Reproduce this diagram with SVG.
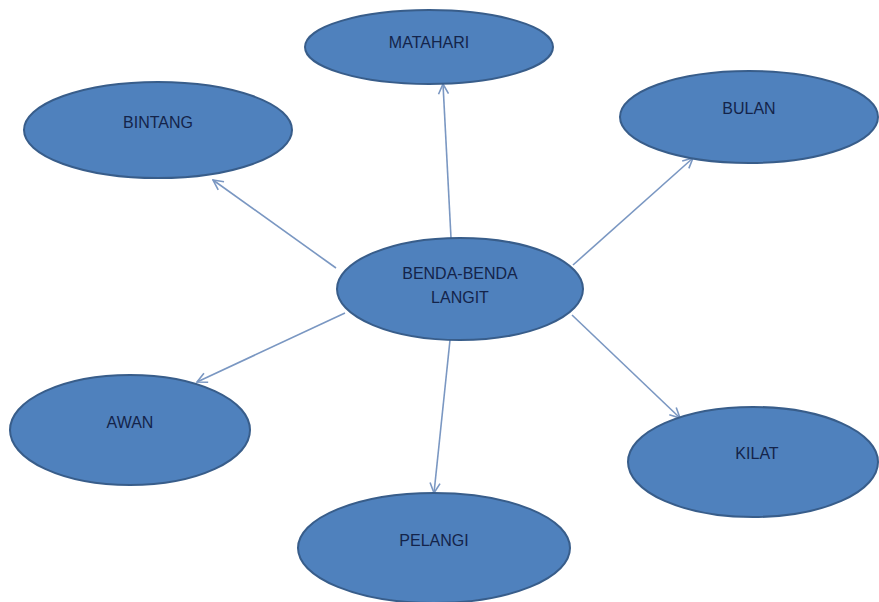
<svg xmlns="http://www.w3.org/2000/svg" width="879" height="602" viewBox="0 0 879 602">
<defs>
<style>
.node ellipse{fill:#4F81BD;stroke:#385D8A;stroke-width:2}
.node text{font-family:"Liberation Sans",Arial,sans-serif;font-size:16px;fill:#14244A;text-anchor:middle;dominant-baseline:central}
.conn line{stroke:#7A97C2;stroke-width:1.6;marker-end:url(#arr)}
</style>
<marker id="arr" viewBox="0 0 12 12" refX="11" refY="6" markerWidth="12" markerHeight="12" markerUnits="userSpaceOnUse" orient="auto">
<path d="M1,1 L11,6 L1,11" fill="none" stroke="#7A97C2" stroke-width="1.6"/>
</marker>
</defs>
<rect width="879" height="602" fill="#fff"/>
<g id="connectors" class="conn">
<line x1="451" y1="238" x2="443" y2="84"/>
<line x1="573" y1="265" x2="693" y2="158"/>
<line x1="336" y1="268" x2="213" y2="180"/>
<line x1="345" y1="313" x2="197" y2="382"/>
<line x1="450" y1="340" x2="434" y2="493"/>
<line x1="572" y1="315" x2="680" y2="418"/>
</g>
<g id="matahari" class="node"><ellipse cx="429" cy="47" rx="124" ry="37"/><text x="429" y="42">MATAHARI</text></g>
<g id="bintang" class="node"><ellipse cx="158" cy="130" rx="134" ry="48"/><text x="158" y="122">BINTANG</text></g>
<g id="bulan" class="node"><ellipse cx="749" cy="117" rx="129" ry="46"/><text x="749" y="108">BULAN</text></g>
<g id="center" class="node"><ellipse cx="460" cy="289" rx="123" ry="51"/><text x="460" y="273">BENDA-BENDA</text><text x="460" y="297">LANGIT</text></g>
<g id="awan" class="node"><ellipse cx="130" cy="430" rx="120" ry="55"/><text x="130" y="422">AWAN</text></g>
<g id="kilat" class="node"><ellipse cx="753" cy="462" rx="125" ry="55"/><text x="757" y="453">KILAT</text></g>
<g id="pelangi" class="node"><ellipse cx="434" cy="548" rx="136" ry="55"/><text x="434" y="540">PELANGI</text></g>
</svg>
